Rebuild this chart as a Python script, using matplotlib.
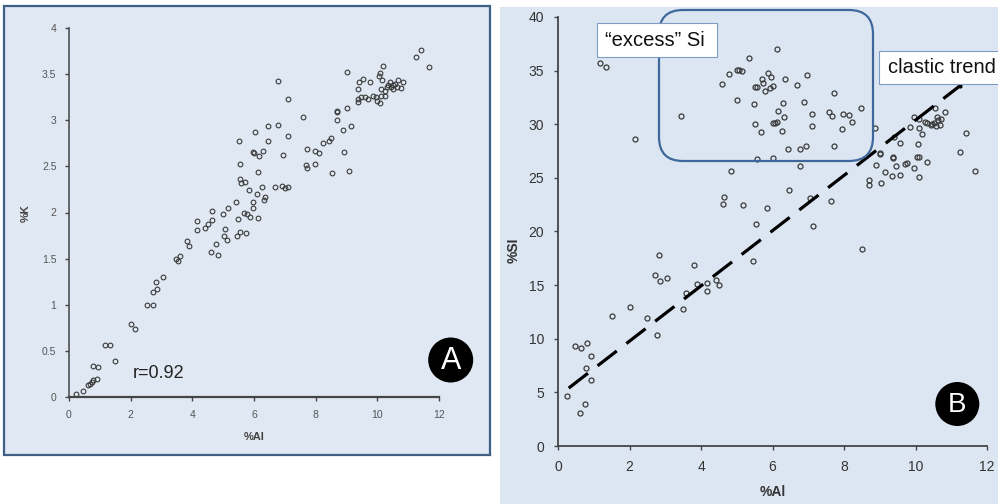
import matplotlib
matplotlib.use("Agg")
import matplotlib.pyplot as plt
from matplotlib.patches import Rectangle, FancyBboxPatch, Circle
import numpy as np

# ---------------- data ----------------
a_al = [0.23, 0.44, 0.60, 0.68, 0.74, 0.79, 0.90, 0.77, 0.94, 1.18, 1.33, 1.48, 2.00, 2.15,
        2.52, 2.71, 2.74, 2.84, 2.83, 3.04, 3.46, 3.52, 3.60, 3.84, 3.88, 4.60, 4.84, 4.78,
        5.04, 5.13, 5.46, 4.16, 4.16, 4.42, 4.51, 4.63, 4.65, 5.07, 5.00, 5.17, 5.40, 5.55,
        5.74, 5.49, 5.68, 5.76, 5.87, 6.13, 5.98, 5.98, 6.09, 5.84, 6.26, 6.33, 6.35, 5.57,
        5.55, 5.71, 5.55, 5.51, 6.13, 5.98, 6.00, 6.16, 6.28, 6.03, 6.45, 6.78, 6.45, 7.09,
        6.93, 6.68, 6.90, 7.00, 7.11, 6.78, 7.10, 7.58, 7.71, 7.69, 7.71, 7.97, 7.98, 8.12,
        8.23, 8.42, 8.50, 8.52, 8.68, 8.68, 8.70, 8.88, 8.92, 9.07, 9.00, 9.14, 9.00, 9.36,
        9.38, 9.47, 9.59, 9.69, 9.36, 9.40, 9.55, 9.75, 9.85, 9.96, 9.98, 10.09, 10.12, 10.26,
        10.06, 10.09, 10.14, 10.20, 10.11, 10.24, 10.30, 10.35, 10.41, 10.43, 10.50, 10.52,
        10.58, 10.63, 10.68, 10.76, 10.84, 11.26, 11.42, 11.68]
a_k = [0.03, 0.07, 0.13, 0.14, 0.16, 0.18, 0.20, 0.34, 0.33, 0.56, 0.56, 0.39, 0.79, 0.74,
       1.00, 1.00, 1.14, 1.17, 1.25, 1.30, 1.50, 1.47, 1.53, 1.69, 1.64, 1.57, 1.54, 1.66,
       1.74, 1.70, 1.75, 1.81, 1.91, 1.83, 1.87, 1.92, 2.02, 1.82, 1.98, 2.05, 2.11, 1.79,
       1.78, 1.93, 2.00, 1.98, 1.95, 1.94, 2.05, 2.11, 2.20, 2.24, 2.28, 2.14, 2.17, 2.32,
       2.36, 2.33, 2.53, 2.78, 2.44, 2.66, 2.65, 2.61, 2.67, 2.87, 2.94, 2.95, 2.78, 2.83,
       2.62, 2.28, 2.29, 2.27, 2.28, 3.43, 3.23, 3.04, 2.69, 2.51, 2.48, 2.53, 2.67, 2.64,
       2.75, 2.77, 2.81, 2.43, 3.00, 3.09, 3.10, 2.89, 2.66, 2.45, 3.13, 2.94, 3.52, 3.20,
       3.23, 3.25, 3.25, 3.23, 3.34, 3.42, 3.45, 3.41, 3.26, 3.25, 3.21, 3.19, 3.26, 3.26,
       3.48, 3.51, 3.44, 3.59, 3.34, 3.32, 3.36, 3.38, 3.42, 3.36, 3.34, 3.38,
       3.39, 3.36, 3.44, 3.35, 3.41, 3.69, 3.76, 3.58]

b_al = [0.24, 0.48, 0.64, 0.80, 0.92, 0.78, 0.91, 0.76, 0.62, 1.50, 2.01, 2.50, 2.76, 2.71,
        2.85, 3.04, 2.82, 3.49, 3.58, 3.81, 3.88, 4.16, 4.17, 4.42, 4.50, 4.65, 4.62, 5.17,
        5.53, 5.46, 1.17, 1.34, 2.14, 3.43, 4.85, 4.59, 4.78, 5.02, 5.07, 5.15, 5.02, 5.35,
        6.13, 5.49, 5.51, 5.56, 5.71, 5.74, 5.88, 5.96, 6.00, 5.93, 5.78, 6.36, 6.68, 6.97,
        6.29, 6.16, 6.33, 6.00, 6.07, 6.13, 6.27, 6.87, 7.10, 7.10, 5.52, 5.68, 6.43, 6.78,
        6.94, 5.56, 6.00, 6.78, 7.72, 7.58, 7.67, 7.72, 6.45, 5.85, 7.05, 7.12, 7.65, 7.97,
        8.13, 8.22, 8.48, 7.94, 8.87, 9.39, 9.57, 9.00, 9.02, 9.38, 9.36, 8.90, 9.45, 9.70,
        9.75, 9.96, 10.05, 10.11, 10.32, 10.06, 9.85, 10.09, 10.18, 9.96, 10.09, 10.26, 10.33,
        10.42, 10.52, 10.58, 10.68, 10.61, 10.72, 10.83, 10.54, 10.45, 10.62, 9.14, 9.04,
        8.69, 8.69, 9.34, 9.56, 10.09, 11.40, 11.25, 11.67, 8.50]
b_si = [4.66, 9.32, 9.10, 9.57, 8.39, 7.24, 6.15, 3.92, 3.05, 12.12, 12.99, 11.90, 10.32, 15.97,
        15.41, 15.66, 17.81, 12.77, 14.24, 16.85, 15.10, 15.23, 14.48, 15.48, 15.01, 23.25, 22.59, 22.50,
        20.70, 17.28, 35.68, 35.37, 28.60, 30.77, 25.61, 33.75, 34.68, 35.06, 35.06, 35.00, 32.26, 36.20,
        37.00, 31.92, 33.50, 33.44, 34.19, 33.88, 34.81, 34.38, 33.57, 33.35, 33.07, 34.19, 33.63, 34.59,
        32.01, 31.26, 30.65, 30.08, 30.15, 30.24, 29.37, 32.10, 30.96, 29.87, 29.99, 29.25, 27.66, 27.66,
        27.97, 26.73, 26.82, 26.14, 32.89, 31.17, 30.77, 27.97, 23.90, 22.19, 23.15, 20.51, 22.84, 30.96,
        30.86, 30.24, 31.48, 29.59, 29.68, 28.84, 28.28, 27.35, 27.25, 26.92, 26.85, 26.23, 26.11, 26.29,
        26.41, 25.92, 26.92, 26.97, 26.45, 28.16, 29.71, 29.62, 29.09, 30.65, 30.46, 30.24, 30.09,
        29.93, 30.09, 29.84, 29.93, 30.65, 30.52, 31.17, 31.48, 30.00, 30.35, 25.52, 24.55,
        24.80, 24.34, 25.20, 25.30, 25.11, 29.15, 27.44, 25.61, 18.34]

trend_al = [0.3, 11.25]
trend_si = [5.4, 33.6]

x_ticks = [0, 2, 4, 6, 8, 10, 12]
a_y_ticks = [0, 0.5, 1, 1.5, 2, 2.5, 3, 3.5, 4]
b_y_ticks = [0, 5, 10, 15, 20, 25, 30, 35, 40]

# ---------------- figure ----------------
W, H = 998, 504
fig = plt.figure(figsize=(W / 100, H / 100), dpi=100)
fig.patch.set_facecolor("white")
plt.rcParams['font.family'] = ['Liberation Sans', 'DejaVu Sans']
inch = fig.dpi_scale_trans


def P(x, y):
    return x / 100.0, (H - y) / 100.0


def add_rect(x0, y0, x1, y1, **kw):
    r = Rectangle(P(x0, y1), (x1 - x0) / 100.0, (y1 - y0) / 100.0, transform=inch, **kw)
    fig.patches.append(r)
    return r


# panel backgrounds (behind the axes)
add_rect(4, 6, 490, 455, facecolor="#dfe8f3", edgecolor="#3f5f84", linewidth=1.6, zorder=-10)
add_rect(500, 7, 1000, 506, facecolor="#dce6f2", edgecolor="none", zorder=-10)


def ax_at(x0, y0, x1, y1):
    return fig.add_axes([x0 / W, (H - y1) / H, (x1 - x0) / W, (y1 - y0) / H])


spine_c = "#454545"

# ---------------- Panel A ----------------
axA = ax_at(69, 28, 439, 397)
axA.patch.set_alpha(0)
axA.plot(a_al, a_k, linestyle="none", marker="o", markersize=3.4,
         markerfacecolor="none", markeredgecolor="#3a3a3a", markeredgewidth=0.8, clip_on=False)
axA.set_xlim(0, 12)
axA.set_ylim(0, 4)
axA.set_xticks(x_ticks)
axA.set_yticks(a_y_ticks)
axA.set_yticklabels([f"{v:g}" for v in a_y_ticks])
for s in ["top", "right"]:
    axA.spines[s].set_visible(False)
axA.spines["left"].set_color(spine_c)
axA.spines["left"].set_linewidth(1.1)
axA.spines["bottom"].set_color(spine_c)
axA.spines["bottom"].set_linewidth(1.6)
axA.tick_params(axis="both", direction="out", length=3, width=1, color=spine_c,
                labelsize=7.5, labelcolor="#555555")
axA.tick_params(axis="x", pad=6)
axA.tick_params(axis="y", pad=6)
fig.text(*P(254, 437), "%Al", transform=inch, fontsize=8, fontweight="bold",
         color="#444444", ha="center", va="center")
fig.text(*P(26, 213), "%K", transform=inch, fontsize=8, fontweight="bold",
         color="#444444", ha="center", va="center", rotation=90)
fig.text(*P(133, 374), "r=0.92", transform=inch, fontsize=13, color="#222222",
         ha="left", va="center")

# ---------------- Panel B ----------------
axB = ax_at(558, 17, 987, 446)
axB.patch.set_alpha(0)
axB.plot(b_al, b_si, linestyle="none", marker="o", markersize=3.6,
         markerfacecolor="none", markeredgecolor="#3a3a3a", markeredgewidth=0.9, clip_on=False)
tl, = axB.plot(trend_al, trend_si, color="black", linewidth=2.3, solid_capstyle="butt")
tl.set_dashes([7.6, 3.8])
axB.plot([trend_al[1]], [trend_si[1]], marker="o", markersize=2, color="black")
axB.set_xlim(0, 12)
axB.set_ylim(0, 40)
axB.set_xticks(x_ticks)
axB.set_yticks(b_y_ticks)
for s in ["top", "right"]:
    axB.spines[s].set_visible(False)
for s in ["left", "bottom"]:
    axB.spines[s].set_color(spine_c)
    axB.spines[s].set_linewidth(1.3)
axB.tick_params(axis="both", direction="out", length=3, width=1, color=spine_c,
                labelsize=10, labelcolor="#333333")
axB.tick_params(axis="x", pad=7)
axB.tick_params(axis="y", pad=7)
fig.text(*P(773, 492), "%Al", transform=inch, fontsize=10, fontweight="bold",
         color="#333333", ha="center", va="center")
fig.text(*P(514, 250), "%SI", transform=inch, fontsize=10, fontweight="bold",
         color="#333333", ha="center", va="center", rotation=90)

# rounded "excess Si" region
x0, y0, x1, y1 = 659, 10, 873, 161
rr = FancyBboxPatch(P(x0, y1), (x1 - x0) / 100.0, (y1 - y0) / 100.0,
                    boxstyle="round,pad=0,rounding_size=0.24", transform=inch,
                    facecolor="none", edgecolor="#3e689b", linewidth=1.6, zorder=5)
fig.patches.append(rr)

# text boxes
add_rect(597, 23, 717, 57, facecolor="white", edgecolor="#7c9cc6", linewidth=0.8, zorder=6)
fig.text(*P(605, 40), "\u201cexcess\u201d Si", transform=inch, fontsize=14.5,
         color="#111111", ha="left", va="center", zorder=7)
add_rect(879, 51, 1002, 84, facecolor="white", edgecolor="#7c9cc6", linewidth=0.8, zorder=6)
fig.text(*P(888, 67.5), "clastic trend", transform=inch, fontsize=14.5,
         color="#111111", ha="left", va="center", zorder=7)

# circle labels
for (cx, cy, r, lab, fs) in [(450.7, 360, 22.5, "A", 22), (957.3, 404, 22, "B", 20)]:
    c = Circle(P(cx, cy), r / 100.0, transform=inch, facecolor="black",
               edgecolor="none", zorder=8)
    fig.patches.append(c)
    fig.text(*P(cx, cy + 1), lab, transform=inch, fontsize=fs, color="white",
             ha="center", va="center", zorder=9)

fig.savefig("out.png", dpi=100)
